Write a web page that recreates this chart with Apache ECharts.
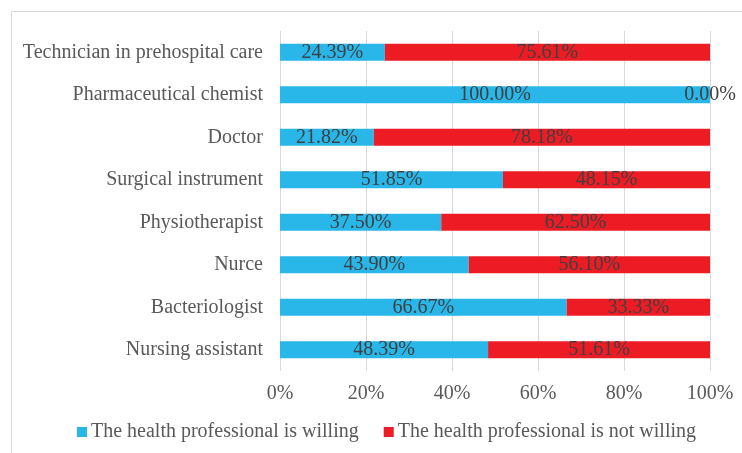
<!DOCTYPE html>
<html>
<head>
<meta charset="utf-8">
<script src="https://cdn.jsdelivr.net/npm/echarts@6/dist/echarts.min.js"></script>
<style>
  html, body { margin: 0; padding: 0; background: #fff; }
  #chart { width: 742px; height: 453px; }
</style>
</head>
<body>
<div id="chart"></div>
<script>
// top to bottom, as in the picture
const categories = [
  'Technician in prehospital care', 'Pharmaceutical chemist', 'Doctor', 'Surgical instrument',
  'Physiotherapist', 'Nurce', 'Bacteriologist', 'Nursing assistant'
]
const willing = [24.39, 100.00, 21.82, 51.85, 37.50, 43.90, 66.67, 48.39]
const notWilling = [75.61, 0.00, 78.18, 48.15, 62.50, 56.10, 33.33, 51.61]
const xTicks = [0, 20, 40, 60, 80, 100]

const font = 'Liberation Serif'
const chart = echarts.init(document.getElementById('chart'))

const labelStyle = {
  show: true,
  position: 'inside',
  fontFamily: font,
  fontSize: 20,
  color: '#404040',
  formatter: p => p.value.toFixed(2) + '%'
}

chart.setOption({
  animation: false,
  graphic: [{
    type: 'rect',
    shape: { x: 11.5, y: 11.5, width: 800, height: 500 },
    style: { fill: 'none', stroke: '#d9d9d9', lineWidth: 1 },
    silent: true
  }],
  grid: { left: 280, right: 32, top: 31, bottom: 82 },
  legend: {
    top: 422,
    left: 77,
    padding: 0,
    itemWidth: 10,
    itemHeight: 10,
    itemGap: 25,
    icon: 'rect',
    textStyle: { fontFamily: font, fontSize: 20, color: '#595959', padding: [0, 0, 0, -1] },
    data: ['The health professional is willing', 'The health professional is not willing']
  },
  xAxis: {
    type: 'value',
    min: xTicks[0],
    max: xTicks[xTicks.length - 1],
    interval: 20,
    axisLine: { show: false },
    axisTick: { show: false },
    axisLabel: { fontFamily: font, fontSize: 20, color: '#595959', margin: 13, formatter: '{value}%' },
    splitLine: { lineStyle: { color: '#d9d9d9', width: 1 } }
  },
  yAxis: {
    type: 'category',
    inverse: true,
    data: categories,
    axisLine: { show: false },
    axisTick: { show: false },
    axisLabel: { fontFamily: font, fontSize: 20, color: '#595959', margin: 17 }
  },
  series: [
    {
      name: 'The health professional is willing',
      type: 'bar',
      stack: 'total',
      barWidth: 17,
      data: willing,
      itemStyle: { color: '#29B6E9' },
      label: labelStyle
    },
    {
      name: 'The health professional is not willing',
      type: 'bar',
      stack: 'total',
      barWidth: 17,
      data: notWilling,
      itemStyle: { color: '#ED1C24' },
      label: labelStyle
    }
  ]
})
</script>
</body>
</html>
